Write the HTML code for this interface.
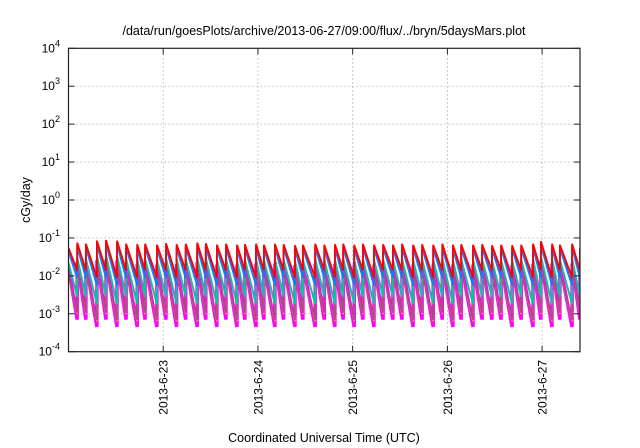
<!DOCTYPE html>
<html><head><meta charset="utf-8"><style>
html,body{margin:0;padding:0;background:#fff;}
svg{display:block;font-family:"Liberation Sans",Arial,sans-serif;}
</style></head><body>
<svg id="chart" width="640" height="448" viewBox="0 0 640 448" xmlns="http://www.w3.org/2000/svg">
<text x="324" y="35" font-size="12.5" text-anchor="middle" fill="#000">/data/run/goesPlots/archive/2013-06-27/09:00/flux/../bryn/5daysMars.plot</text>
<g id="grid"></g>
<g id="series"></g>
<rect x="68.5" y="48.3" width="511.5" height="303.4" fill="none" stroke="#222" stroke-width="1.2"/>
<g id="axes"></g>
<text transform="translate(30,200) rotate(-90)" font-size="12.5" text-anchor="middle" fill="#000">cGy/day</text>
<text x="324" y="442" font-size="12.5" text-anchor="middle" fill="#000">Coordinated Universal Time (UTC)</text>
</svg>
<script>
// ---- data ----
const yDecades = [-4,-3,-2,-1,0,1,2,3,4];
const dayTicksHours = [24,48,72,96,120];
const dayTickLabels = ["2013-6-23","2013-6-24","2013-6-25","2013-6-26","2013-6-27"];
const startValue = 0.055;
const peakTimes = [2.2,4.4,7.2,9.5,12.3,14.6,17.4,19.4,22.4,24.7,27.4,29.7,32.6,34.8,37.6,39.9,42.7,44.7,47.5,49.5,52.3,54.5,57.4,59.4,62.5,64.8,67.5,69.6,72.4,74.6,77.4,79.7,82.2,84.5,87.3,89.6,92.4,94.7,97.4,99.5,102.5,104.8,107.3,109.6,112.4,114.7,117.7,119.7,122.5,124.5,127.6,129.6];
const peakValues = [0.075,0.07,0.085,0.088,0.085,0.07,0.068,0.07,0.066,0.072,0.068,0.07,0.075,0.072,0.066,0.07,0.066,0.068,0.07,0.066,0.07,0.068,0.064,0.066,0.07,0.066,0.068,0.07,0.066,0.07,0.066,0.068,0.066,0.07,0.066,0.068,0.066,0.07,0.066,0.068,0.066,0.068,0.064,0.066,0.064,0.066,0.07,0.082,0.07,0.066,0.07,0.055];
const troughShort = 0.014;
const troughLong = 0.009;
const seriesNames = ["magenta","yellow","brown","teal","dark-blue","blue","red"];
const seriesColors = ["#ff00ff","#e8c000","#a0507a","#10c0a0","#0040d0","#1e78f0","#ff0000"];
const seriesPeakRatio = [0.3,0.2,0.2,0.4,0.85,0.8,1.0];
const seriesTroughRatio = [0.05,0.07,0.075,0.2,0.65,0.62,1.0];
const seriesWidth = [3.5,1.5,1.5,2,1.8,1.8,1.8];

// ---- axes ----
const X0=68.5, X1=580, Y0=351.7, Y1=48.3, H0=0, H1=129.6;
const xs = h => X0 + (h-H0)/(H1-H0)*(X1-X0);
const ys = v => Y0 - (Math.log10(v)+4)/8*(Y0-Y1);
const NS="http://www.w3.org/2000/svg";
function mk(tag, attrs, parent){const e=document.createElementNS(NS,tag);for(const k in attrs)e.setAttribute(k,attrs[k]);parent.appendChild(e);return e;}
const grid=document.getElementById('grid'), axes=document.getElementById('axes'), ser=document.getElementById('series');

yDecades.forEach(d=>{
  const y=ys(Math.pow(10,d));
  if(d>-4&&d<4){const g=mk('line',{x1:X0,x2:X1,y1:y,y2:y,stroke:'#aaa','stroke-width':0.8,'stroke-dasharray':'1.5,2.5'},grid);
  
  }
  const t1=mk('line',{x1:X0,x2:X0+6,y1:y,y2:y,stroke:'#222','stroke-width':1},axes);
  
  
  const t2=mk('line',{x1:X1-6,x2:X1,y1:y,y2:y,stroke:'#222','stroke-width':1},axes);
  
  
  const lb=mk('text',{x:60,y:y+4,'font-size':12,'text-anchor':'end',fill:'#000'},axes);
  
  
  lb.appendChild(document.createTextNode('10'));
  const sp=mk('tspan',{dy:-6,'font-size':9},lb);
  sp.textContent=String(d);
});
dayTicksHours.forEach((h,i)=>{
  const x=xs(h);
  const g=mk('line',{x1:x,x2:x,y1:Y0,y2:Y1,stroke:'#aaa','stroke-width':0.8,'stroke-dasharray':'1.5,2.5'},grid);
  
  
  const t1=mk('line',{x1:x,x2:x,y1:Y0,y2:Y0-6,stroke:'#222','stroke-width':1},axes);
  
  
  const t2=mk('line',{x1:x,x2:x,y1:Y1,y2:Y1+6,stroke:'#222','stroke-width':1},axes);
  
  
  const lb=mk('text',{transform:`translate(${x+4.5},360) rotate(-90)`,'font-size':12,'text-anchor':'end',fill:'#000'},axes);
  
  
  lb.textContent=dayTickLabels[i];
});

// ---- series ----
function redPoints(){
  const pts=[];
  let t=0, v=startValue;
  for(let i=0;i<peakTimes.length;i++){
    const tn=peakTimes[i];
    const gap=tn-t;
    const tr=(gap>2.5?troughLong:troughShort);
    pts.push([t,v,1]);
    pts.push([tn,tr,0]);
    t=tn; v=peakValues[i];
  }
  pts.push([t,v,1]);
  return pts;
}
const base=redPoints();
seriesNames.forEach((nm,si)=>{
  let d='';
  for(let i=0;i<base.length;i++){
    const [t,v,isPeak]=base[i];
    const val=v*(isPeak?seriesPeakRatio[si]:seriesTroughRatio[si]);
    if(i===0){
      d+=`M${xs(t).toFixed(1)},${ys(val).toFixed(1)}`;
    } else {
      d+=` L${xs(t).toFixed(1)},${ys(val).toFixed(1)}`;
    }
  }
  const p=mk('path',{d:d,fill:'none',stroke:seriesColors[si],'stroke-width':seriesWidth[si],'stroke-linejoin':'miter','clip-path':'url(#clip)'},ser);
  
  
});
const defs=mk('defs',{},document.getElementById('chart'));
const cp=mk('clipPath',{id:'clip'},defs);
mk('rect',{x:X0,y:Y1,width:X1-X0,height:Y0-Y1},cp);
</script>
</body></html>
